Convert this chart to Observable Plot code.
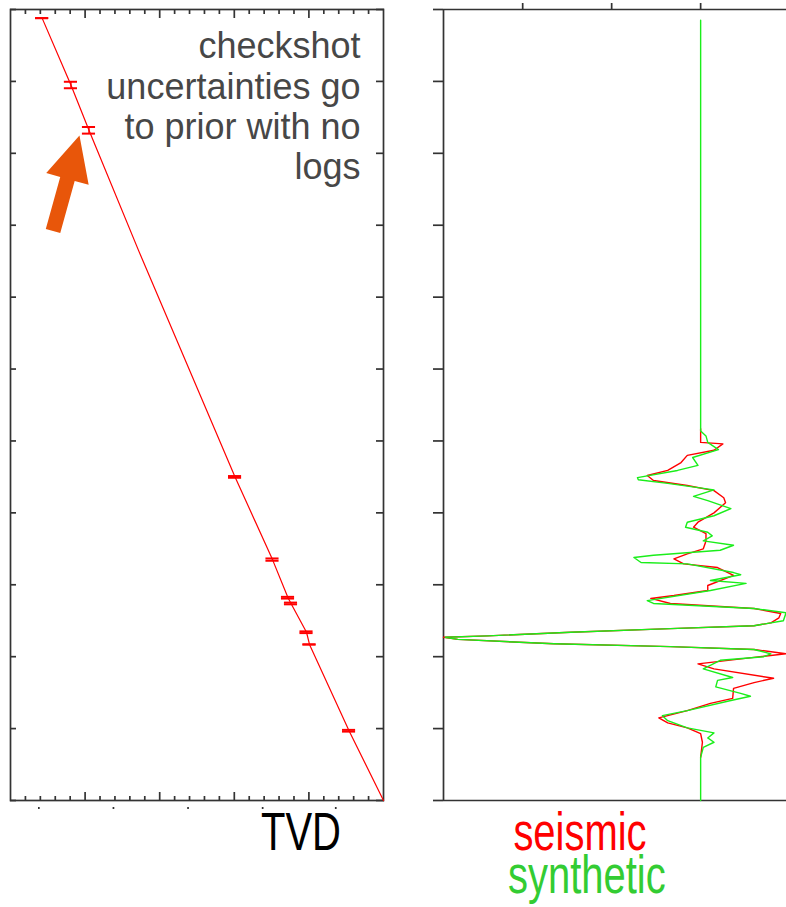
<!DOCTYPE html>
<html><head><meta charset="utf-8">
<script src="https://cdn.jsdelivr.net/npm/d3@7"></script>
<script src="https://cdn.jsdelivr.net/npm/@observablehq/plot@0.6"></script>
<style>
html,body{margin:0;padding:0;background:#fff;overflow:hidden;}
#wrap{position:relative;width:786px;height:907px;overflow:hidden;font-family:"Liberation Sans",Arial,sans-serif;}
#left{position:absolute;left:0;top:0;}
#right{position:absolute;left:420px;top:0;}
.lab{position:absolute;font-size:54px;line-height:40px;height:40px;text-align:center;transform:scaleX(0.74);white-space:nowrap;width:200px;}
</style></head><body>
<div id="wrap">
  <div id="left"></div>
  <div id="right"></div>
  <div class="lab" style="left:201px;top:811px;color:#000">TVD</div>
  <div class="lab" style="left:480px;top:811px;color:#ff0000">seismic</div>
  <div class="lab" style="left:482px;top:854px;color:#33cc33">synthetic</div>
</div>
<script>
// ---- axis ticks (unlabelled) ----
const timeTicks = [0, 100, 200, 300, 400, 500, 600, 700, 800, 900, 1000, 1100];
const tvdMajor = [500, 1000, 1500, 2000];
const tvdMinor = [100, 200, 300, 400, 600, 700, 800, 900, 1100, 1200, 1300, 1400, 1600, 1700, 1800, 1900, 2100, 2200, 2300, 2400];
const tvdLabelStubs = [190, 690, 1190, 1690, 2180];
const ampTicks = [-200, -100, 0];

// ---- time-depth curve (time ms, TVD) ----
const tdTime = [12, 105, 168, 335, 650, 765, 818, 826, 866, 883, 1003, 1100];
const tdDepth = [212, 405, 526, 858, 1505, 1756, 1860, 1880, 1984, 2004, 2269, 2500];

// ---- checkshots with time uncertainty ----
const csTime = [12, 105, 168, 650, 765, 818, 826, 866, 883, 1003];
const csDepth = [212, 405, 526, 1505, 1756, 1860, 1880, 1984, 2004, 2269];
const csErr = [0, 4.5, 4.6, 1.2, 1.6, 1.2, 1.2, 1.2, 0, 1.2];

// ---- annotation ----
const noteText = "checkshot\nuncertainties go\nto prior with no\nlogs";
const noteTime = [28];
const noteDepth = [2346];
const arrowTail = {t: 308, tvd: 285};

// ---- synthetic trace (green) ----
const synTime = [15, 586, 593, 602, 612, 623, 634, 641, 651, 654, 659, 668, 677, 683, 694, 704, 713, 720, 727, 732, 739, 745, 752, 759, 762, 769, 771, 783, 786, 794, 798, 808, 822, 826, 833, 839, 850, 857, 861, 866, 871, 873, 876, 882, 886, 890, 896, 900, 905, 917, 929, 933, 942, 951, 955, 961, 975, 982, 989, 999, 1006, 1013, 1019, 1026, 1040, 1100];
const synAmp = [0, 0, 6, 8, 20, -9, -3, -26, -71, -70, -37, 15, -8, 8, 34, 15, -15, -17, 8, 13, 3, 37, 22, -53, -75, -67, -15, 37, 45, 11, 51, 11, -60, -53, 60, 96, 93, 60, -34, -146, -239, -287, -273, -165, -34, 60, 79, 71, 22, 3, 36, 19, 17, 45, 56, 34, -15, -43, -37, -15, 15, 8, 15, 3, 0, 0];

// ---- seismic trace (red) ----
const seisTime = [583, 602, 604, 613, 620, 630, 641, 648, 655, 662, 669, 679, 686, 700, 713, 720, 729, 739, 750, 757, 764, 771, 776, 787, 801, 808, 815, 819, 826, 833, 840, 846, 853, 857, 861, 866, 871, 873, 876, 882, 886, 890, 896, 901, 910, 917, 930, 936, 944, 958, 965, 975, 985, 992, 999, 1007, 1019, 1040];
const seisAmp = [0, 0, 25, 15, -15, -22, -37, -60, -53, -15, 15, 26, 28, 15, -3, -8, 6, 6, 3, -15, -30, -19, 19, 37, 8, 8, -30, -56, -34, 60, 90, 88, 79, 60, -34, -146, -239, -289, -273, -165, -34, 60, 96, 60, -3, 15, 82, 60, 37, 36, 11, -15, -47, -37, -15, 0, 2, 0];

const td = tdTime.map((t, i) => ({t, tvd: tdDepth[i]}));
const cs = csTime.map((t, i) => ({t, tvd: csDepth[i], err: csErr[i]}));
const caps = cs.flatMap(d => [{t: d.t - d.err, tvd: d.tvd}, {t: d.t + d.err, tvd: d.tvd}]);
const note = noteTime.map((t, i) => ({t, tvd: noteDepth[i], text: noteText}));
const syn = synTime.map((t, i) => ({t, a: synAmp[i]}));
const seis = seisTime.map((t, i) => ({t, a: seisAmp[i]}));

const axisCol = "#333";
const axW = 1.7;
const capHalf = 44;
const ampDomain = [-289, 101];

const blockArrow = {
  draw(ctx, l) {
    const sw = 7.5, hw = 22, hl = 45;
    ctx.moveTo(-sw, 0);
    ctx.lineTo(-sw, -l + hl);
    ctx.lineTo(-hw, -l + hl);
    ctx.lineTo(0, -l);
    ctx.lineTo(hw, -l + hl);
    ctx.lineTo(sw, -l + hl);
    ctx.lineTo(sw, 0);
    ctx.closePath();
  }
};

const tickOpts = {fill: "none", label: null, stroke: axisCol, strokeWidth: axW};

const left = Plot.plot({
  width: 400, height: 820,
  marginLeft: 10, marginRight: 17, marginTop: 9, marginBottom: 20,
  style: {maxWidth: "none", overflow: "visible", background: "transparent"},
  x: {domain: [0, 2500], axis: null},
  y: {domain: [0, 1100], reverse: true, axis: null},
  marks: [
    Plot.frame({stroke: axisCol, strokeWidth: axW}),
    Plot.axisY({...tickOpts, anchor: "left", ticks: timeTicks, tickSize: -6}),
    Plot.axisY({...tickOpts, anchor: "right", ticks: timeTicks, tickSize: -8}),
    Plot.axisX({...tickOpts, anchor: "top", ticks: tvdMinor, tickSize: -4}),
    Plot.axisX({...tickOpts, anchor: "top", ticks: tvdMajor, tickSize: -8}),
    Plot.axisX({...tickOpts, anchor: "bottom", ticks: tvdMinor, tickSize: -4}),
    Plot.axisX({...tickOpts, anchor: "bottom", ticks: tvdMajor, tickSize: -8}),
    Plot.axisX({...tickOpts, anchor: "bottom", ticks: tvdLabelStubs, tickSize: 2, dy: 7}),
    Plot.line(td, {x: "tvd", y: "t", stroke: "#ff0000", strokeWidth: 1.2}),
    Plot.ruleX(cs, {x: "tvd", y1: d => d.t - d.err, y2: d => d.t + d.err, stroke: "#ff0000", strokeWidth: 1.4}),
    Plot.ruleY(caps, {y: "t", x1: d => d.tvd - capHalf, x2: d => d.tvd + capHalf, stroke: "#ff0000", strokeWidth: 2}),
    Plot.text(note, {x: "tvd", y: "t", text: "text", textAnchor: "end", lineAnchor: "top", fontSize: 36, lineHeight: 1.12, fill: "#474747", fontFamily: "Liberation Sans, Arial, sans-serif"}),
    Plot.vector([arrowTail], {x: "tvd", y: "t", length: 99, rotate: 15.5, anchor: "start", shape: blockArrow, fill: "#e8560a", stroke: "none"})
  ]
});
document.getElementById("left").appendChild(left);

const right = Plot.plot({
  width: 380, height: 820,
  marginLeft: 23, marginRight: 10, marginTop: 9, marginBottom: 20,
  style: {maxWidth: "none", overflow: "visible", background: "transparent"},
  x: {domain: ampDomain, axis: null},
  y: {domain: [0, 1100], reverse: true, axis: null},
  marks: [
    Plot.ruleY([0, 1100], {stroke: axisCol, strokeWidth: axW}),
    Plot.ruleX([ampDomain[0]], {stroke: axisCol, strokeWidth: axW}),
    Plot.axisY({...tickOpts, anchor: "left", ticks: timeTicks, tickSize: 10}),
    Plot.axisX({...tickOpts, anchor: "top", ticks: ampTicks, tickSize: 7}),
    Plot.line(seis, {x: "a", y: "t", stroke: "#ff0000", strokeWidth: 1.4}),
    Plot.line(syn, {x: "a", y: "t", stroke: "#1aee1a", strokeWidth: 1.4})
  ]
});
document.getElementById("right").appendChild(right);
</script>
</body></html>
